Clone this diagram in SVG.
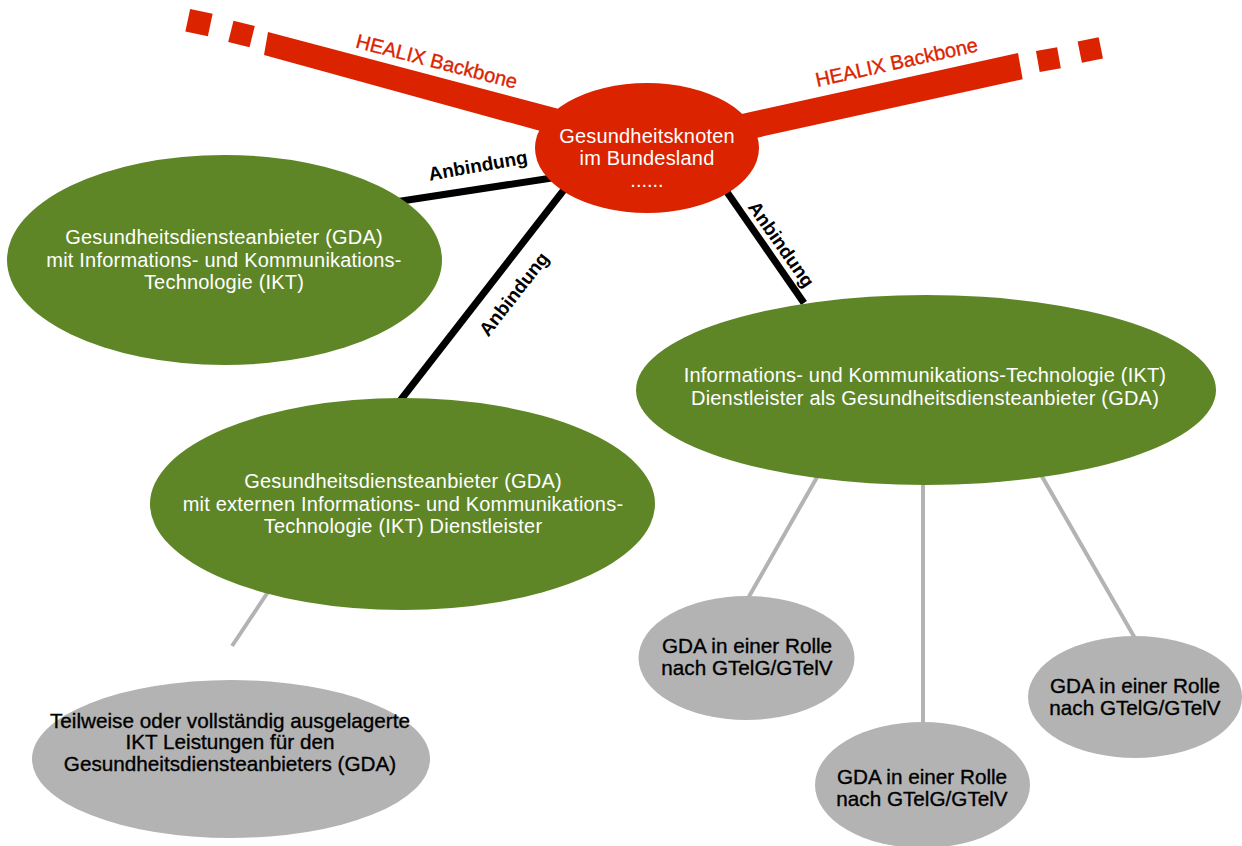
<svg xmlns="http://www.w3.org/2000/svg" width="1242" height="846" viewBox="0 0 1242 846">
<style>
  .t{font-family:"Liberation Sans",Arial,Helvetica,sans-serif;font-size:20px;text-anchor:middle}
  .w{fill:#ffffff}
  .k{fill:#000000}
  .gk{font-size:20.7px;stroke:#000000;stroke-width:0.35}
  .rt{fill:#dc2300;stroke:#dc2300;stroke-width:0.35}
  .wide{letter-spacing:0.2px}
  .lbl{font-weight:bold;font-size:19px}
  .red{fill:#dc2300}
  .green{fill:#5e8627}
  .grey{fill:#b3b3b3}
  .conn{stroke:#000000;stroke-width:7;fill:none}
  .sub{stroke:#b3b3b3;stroke-width:4;fill:none}
</style>
<rect width="1242" height="846" fill="#ffffff"/>

<g id="backbone">
  <polygon class="red" points="268,32 610,122.6 600,147.4 264,55"/>
  <rect class="red" x="-11.5" y="-11.5" width="23" height="23" transform="translate(199,22.6) rotate(12)"/>
  <rect class="red" x="-11" y="-11" width="22" height="22" transform="translate(241.5,34) rotate(14)"/>
  <polygon class="red" points="1018,53 1022.7,79.3 700,150.2 690,125.4"/>
  <rect class="red" x="-10.75" y="-10.75" width="21.5" height="21.5" transform="translate(1048.4,59.6) rotate(-10)"/>
  <rect class="red" x="-10.75" y="-10.75" width="21.5" height="21.5" transform="translate(1090.3,50) rotate(-11.5)"/>
  <text class="t rt" transform="translate(435,68) rotate(14.5)">HEALIX Backbone</text>
  <text class="t rt" transform="translate(898,69) rotate(-12.5)">HEALIX Backbone</text>
</g>

<g id="connectors">
  <line class="conn" x1="395" y1="202" x2="565" y2="176"/>
  <line class="conn" x1="570" y1="182" x2="396" y2="406"/>
  <line class="conn" x1="720" y1="182" x2="804" y2="303"/>
  <text class="t k lbl" transform="translate(479,172) rotate(-10)">Anbindung</text>
  <text class="t k lbl" transform="translate(519,298) rotate(-52)">Anbindung</text>
  <text class="t k lbl" transform="translate(776,248) rotate(55)">Anbindung</text>
  <line class="sub" x1="268" y1="592" x2="232" y2="646"/>
  <line class="sub" x1="820" y1="472" x2="747" y2="600"/>
  <line class="sub" x1="923" y1="480" x2="923" y2="725"/>
  <line class="sub" x1="1040" y1="473" x2="1136" y2="640"/>
</g>

<g id="node-knoten">
  <ellipse class="red" cx="647" cy="148" rx="112" ry="65"/>
  <text class="t w wide" x="647" y="143">Gesundheitsknoten</text>
  <text class="t w wide" x="647" y="165">im Bundesland</text>
  <text class="t w" x="647" y="187">......</text>
</g>

<g id="node-gda-ikt">
  <ellipse class="green" cx="224.5" cy="260" rx="217.5" ry="105"/>
  <text class="t w wide" x="224" y="244">Gesundheitsdiensteanbieter (GDA)</text>
  <text class="t w wide" x="224" y="267">mit Informations- und Kommunikations-</text>
  <text class="t w wide" x="224" y="289">Technologie (IKT)</text>
</g>

<g id="node-gda-extern">
  <ellipse class="green" cx="402.5" cy="504" rx="252.5" ry="106"/>
  <text class="t w wide" x="403" y="488">Gesundheitsdiensteanbieter (GDA)</text>
  <text class="t w wide" x="403" y="511">mit externen Informations- und Kommunikations-</text>
  <text class="t w wide" x="403" y="533">Technologie (IKT) Dienstleister</text>
</g>

<g id="node-ikt-dienstleister">
  <ellipse class="green" cx="926" cy="390" rx="290" ry="95"/>
  <text class="t w wide" x="925" y="382">Informations- und Kommunikations-Technologie (IKT)</text>
  <text class="t w wide" x="925" y="405">Dienstleister als Gesundheitsdiensteanbieter (GDA)</text>
</g>

<g id="node-ausgelagert">
  <ellipse class="grey" cx="231" cy="759" rx="199" ry="79"/>
  <text class="t k gk" x="230" y="728">Teilweise oder vollständig ausgelagerte</text>
  <text class="t k gk" x="230" y="749">IKT Leistungen für den</text>
  <text class="t k gk" x="230" y="771">Gesundheitsdiensteanbieters (GDA)</text>
</g>

<g id="node-rolle-1">
  <ellipse class="grey" cx="746.5" cy="658" rx="108" ry="62"/>
  <text class="t k gk" x="747" y="653">GDA in einer Rolle</text>
  <text class="t k gk" x="747" y="675">nach GTelG/GTelV</text>
</g>

<g id="node-rolle-2">
  <ellipse class="grey" cx="922.5" cy="785" rx="107.5" ry="63"/>
  <text class="t k gk" x="922" y="784">GDA in einer Rolle</text>
  <text class="t k gk" x="922" y="806">nach GTelG/GTelV</text>
</g>

<g id="node-rolle-3">
  <ellipse class="grey" cx="1135" cy="697" rx="107" ry="61"/>
  <text class="t k gk" x="1135" y="693">GDA in einer Rolle</text>
  <text class="t k gk" x="1135" y="715">nach GTelG/GTelV</text>
</g>
</svg>
